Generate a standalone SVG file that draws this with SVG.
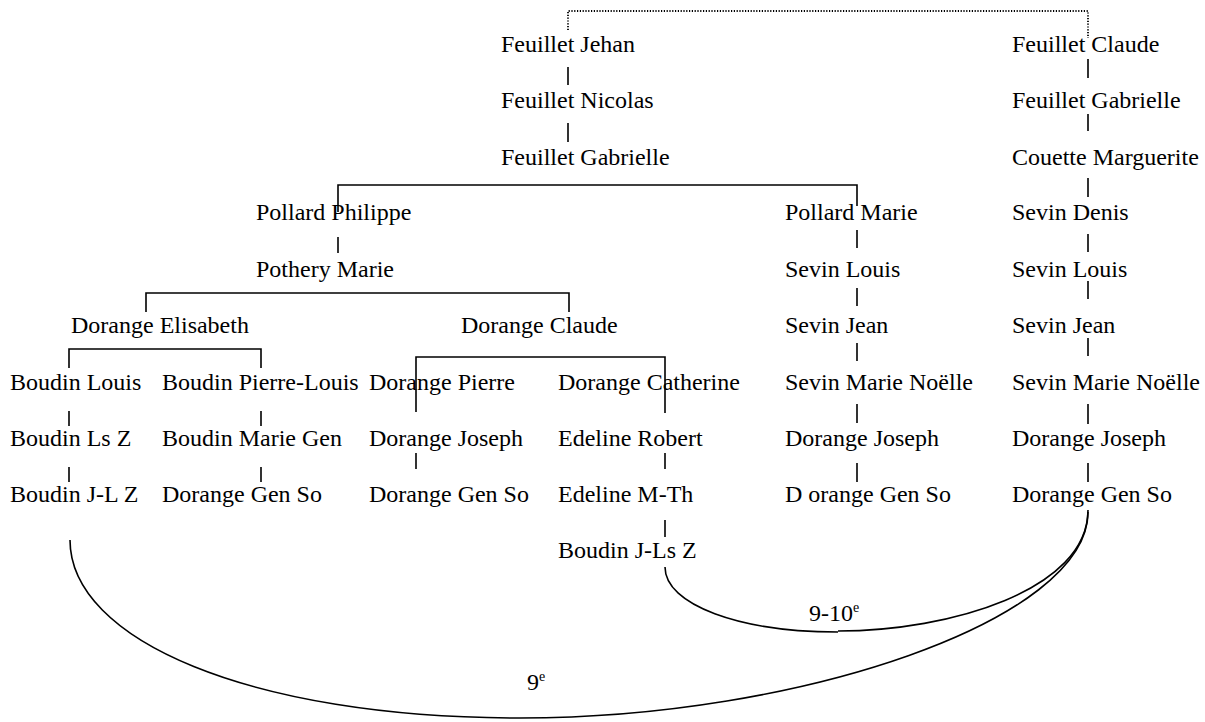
<svg xmlns="http://www.w3.org/2000/svg" width="1205" height="722" viewBox="0 0 1205 722">
<style>
text{font-family:"Liberation Serif","Times New Roman",serif;font-size:24px;fill:#000}
.l{stroke:#000;stroke-width:1.6;fill:none}
.d{stroke:#000;stroke-width:1.8;fill:none;stroke-dasharray:1.2 1.6}
.sup{font-size:14px}
</style>
<rect width="1205" height="722" fill="#fff"/>
<g id="connectors">
<path class="d" d="M568,30 V11 H1088 V38"/>
<path class="l" d="M568,67 V85 M568,123 V142"/>
<path class="l" d="M338,212 V185 H857 V206"/>
<path class="l" d="M338,237 V253"/>
<path class="l" d="M146,312 V293 H569 V312"/>
<path class="l" d="M69,368 V349 H261 V368"/>
<path class="l" d="M416,412 V357 H665 V413"/>
<path class="l" d="M69,411 V426 M69,467 V482"/>
<path class="l" d="M261,411 V426 M261,467 V482"/>
<path class="l" d="M416,453 V469"/>
<path class="l" d="M665,453 V469 M665,520 V537"/>
<path class="l" d="M857,230 V248 M857,288 V306 M857,343 V361 M857,404 V423 M857,463 V482"/>
<path class="l" d="M1088,59 V78 M1088,114 V131 M1088,178 V197 M1088,234 V252 M1088,281 V299 M1088,338 V356 M1088,404 V424 M1088,463 V482"/>
<path class="l" d="M665,567 C665,605 740,632 838,632"/>
<path class="l" d="M838,631 C950,631 1088,590 1088,510"/>
<path class="l" d="M70,540 C70,640 250,718 520,718"/>
<path class="l" d="M520,718 C800,718 1088,620 1088,512"/>
</g>
<g id="n-jehan"><text x="501" y="52">Feuillet Jehan</text></g>
<g id="n-nicolas"><text x="501" y="108">Feuillet Nicolas</text></g>
<g id="n-gabrielle"><text x="501" y="165">Feuillet Gabrielle</text></g>
<g id="n-pollard-philippe"><text x="256" y="220">Pollard Philippe</text></g>
<g id="n-pothery-marie"><text x="256" y="277">Pothery Marie</text></g>
<g id="n-dorange-elisabeth"><text x="71" y="333">Dorange Elisabeth</text></g>
<g id="n-dorange-claude"><text x="461" y="333">Dorange Claude</text></g>
<g id="n-boudin-louis"><text x="10" y="390">Boudin Louis</text></g>
<g id="n-boudin-ls-z"><text x="10" y="446">Boudin Ls Z</text></g>
<g id="n-boudin-jl-z"><text x="10" y="502">Boudin J-L Z</text></g>
<g id="n-boudin-pierre-louis"><text x="162" y="390">Boudin Pierre-Louis</text></g>
<g id="n-boudin-marie-gen"><text x="162" y="446">Boudin Marie Gen</text></g>
<g id="n-dorange-gen-so-1"><text x="162" y="502">Dorange Gen So</text></g>
<g id="n-dorange-pierre"><text x="369" y="390">Dorange Pierre</text></g>
<g id="n-dorange-joseph-1"><text x="369" y="446">Dorange Joseph</text></g>
<g id="n-dorange-gen-so-2"><text x="369" y="502">Dorange Gen So</text></g>
<g id="n-dorange-catherine"><text x="558" y="390">Dorange Catherine</text></g>
<g id="n-edeline-robert"><text x="558" y="446">Edeline Robert</text></g>
<g id="n-edeline-mth"><text x="558" y="502">Edeline M-Th</text></g>
<g id="n-boudin-jls-z"><text x="558" y="558">Boudin J-Ls Z</text></g>
<g id="n-pollard-marie"><text x="785" y="220">Pollard Marie</text></g>
<g id="n-sevin-louis-1"><text x="785" y="277">Sevin Louis</text></g>
<g id="n-sevin-jean-1"><text x="785" y="333">Sevin Jean</text></g>
<g id="n-sevin-marie-noelle-1"><text x="785" y="390">Sevin Marie Noëlle</text></g>
<g id="n-dorange-joseph-2"><text x="785" y="446">Dorange Joseph</text></g>
<g id="n-dorange-gen-so-3"><text x="785" y="502">D orange Gen So</text></g>
<g id="n-feuillet-claude"><text x="1012" y="52">Feuillet Claude</text></g>
<g id="n-feuillet-gabrielle-2"><text x="1012" y="108">Feuillet Gabrielle</text></g>
<g id="n-couette-marguerite"><text x="1012" y="165">Couette Marguerite</text></g>
<g id="n-sevin-denis"><text x="1012" y="220">Sevin Denis</text></g>
<g id="n-sevin-louis-2"><text x="1012" y="277">Sevin Louis</text></g>
<g id="n-sevin-jean-2"><text x="1012" y="333">Sevin Jean</text></g>
<g id="n-sevin-marie-noelle-2"><text x="1012" y="390">Sevin Marie Noëlle</text></g>
<g id="n-dorange-joseph-3"><text x="1012" y="446">Dorange Joseph</text></g>
<g id="n-dorange-gen-so-4"><text x="1012" y="502">Dorange Gen So</text></g>
<g id="labels">
<text x="809" y="621">9-10<tspan class="sup" dy="-9">e</tspan></text>
<text x="527" y="690">9<tspan class="sup" dy="-9">e</tspan></text>
</g>
</svg>
